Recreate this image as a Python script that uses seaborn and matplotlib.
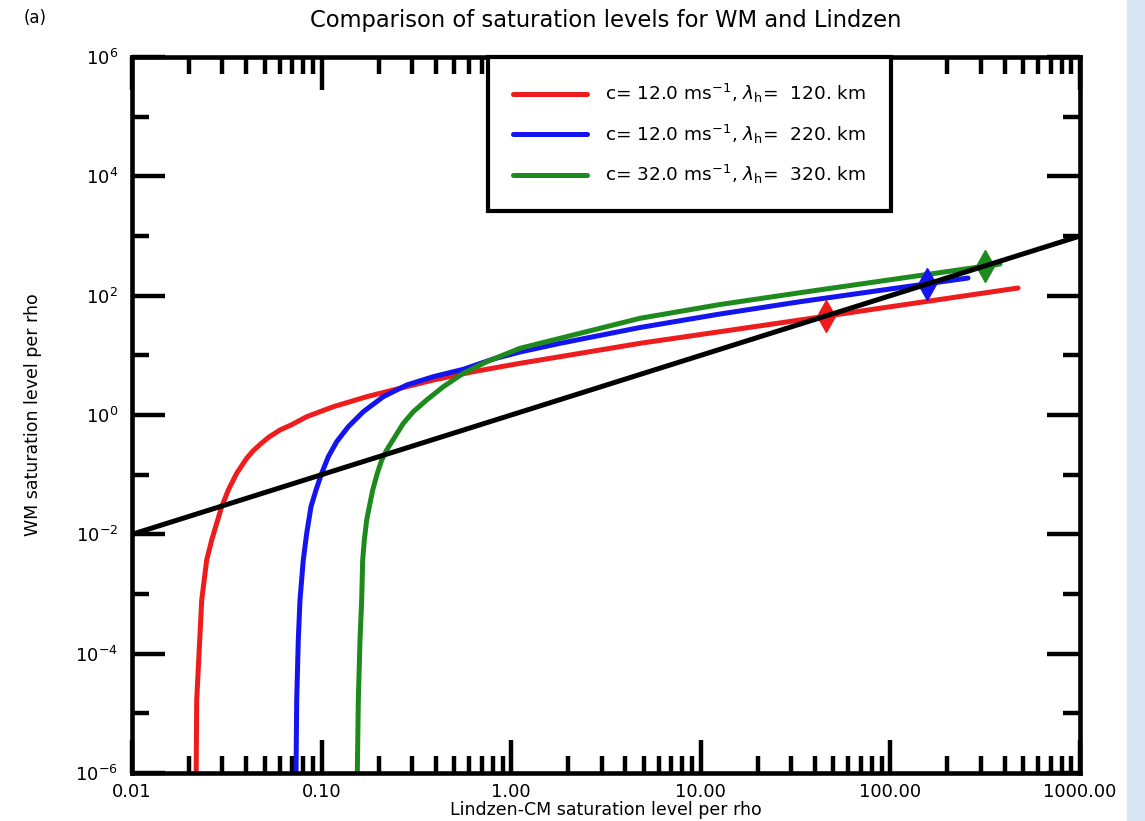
import numpy as np
import pandas as pd
import matplotlib
matplotlib.use("Agg")
import matplotlib.pyplot as plt
import seaborn as sns

# ---- data (log-log) ----
red_x = [0.0218, 0.02194, 0.02332, 0.02477, 0.02633, 0.02797, 0.02972, 0.03221,
         0.03565, 0.04027, 0.04346, 0.04732, 0.0528, 0.06034, 0.06982, 0.08345,
         0.1153, 0.1729, 0.2592, 0.3882, 0.631, 1.113, 1.809, 4.778, 12.63, 33.37, 471]
red_y = [1e-6, 1.67e-5, 7.94e-4, 3.72e-3, 8.04e-3, 0.01531, 0.02904, 0.0553,
         0.1054, 0.188, 0.2492, 0.3203, 0.4279, 0.5605, 0.6929, 0.9365,
         1.377, 2.026, 2.803, 3.86, 5.318, 7.35, 9.49, 15.9, 24.9, 39.1, 134.3]

blue_x = [0.07328, 0.07391, 0.07535, 0.07691, 0.08006, 0.08345, 0.0879, 0.09343,
          0.1001, 0.1085, 0.1201, 0.1383, 0.166, 0.2115, 0.2811, 0.3882, 0.5588,
          0.8046, 1.113, 1.809, 4.778, 12.63, 33.37, 256.7]
blue_y = [1e-6, 1.67e-5, 1.695e-4, 7.94e-4, 3.72e-3, 0.01041, 0.02904, 0.0553,
          0.1054, 0.2, 0.3568, 0.6367, 1.136, 2.026, 3.183, 4.385, 5.834,
          8.679, 11.37, 15.9, 29.27, 49.28, 79.2, 197.7]

green_x = [0.1543, 0.1562, 0.1594, 0.1627, 0.1647, 0.168, 0.1729, 0.1785, 0.186,
           0.1967, 0.2075, 0.2205, 0.2438, 0.2698, 0.3046, 0.3582, 0.4384, 0.5588,
           0.7427, 1.113, 1.809, 4.778, 12.63, 33.37, 378.4]
green_y = [1e-6, 1.67e-5, 1.695e-4, 7.94e-4, 3.72e-3, 8.04e-3, 0.01739, 0.02904, 0.0553,
           0.1054, 0.1761, 0.2591, 0.4329, 0.7259, 1.136, 1.784, 2.981, 4.998,
           7.823, 13.12, 19.29, 41.75, 71.1, 112.1, 339.4]

ref_x = [0.01, 1000.0]
ref_y = [0.01, 1000.0]

marker_x = [46.0, 156.0, 315.0]
marker_y = [46.0, 156.0, 315.0]

labels = [r"c= 12.0 ms$^{-1}$, $\lambda_{\rm h}$=  120. km",
          r"c= 12.0 ms$^{-1}$, $\lambda_{\rm h}$=  220. km",
          r"c= 32.0 ms$^{-1}$, $\lambda_{\rm h}$=  320. km"]
colors = ["#ee1c1c", "#1414f0", "#1e8a1e"]

xticks = [0.01, 0.1, 1, 10, 100, 1000]
xtick_labels = ["0.01", "0.10", "1.00", "10.00", "100.00", "1000.00"]
yticks = [1e-6, 1e-4, 1e-2, 1e0, 1e2, 1e4, 1e6]
ytick_labels = [r"$10^{-6}$", r"$10^{-4}$", r"$10^{-2}$", r"$10^{0}$",
                r"$10^{2}$", r"$10^{4}$", r"$10^{6}$"]

sns.set_style("white")
plt.rcParams['font.family'] = ['DejaVu Sans']
plt.rcParams['mathtext.fontset'] = 'dejavusans'
for k in ["text.color", "axes.labelcolor", "xtick.color", "ytick.color"]:
    plt.rcParams[k] = "black"

fig = plt.figure(figsize=(11.45, 8.21), dpi=100)
fig.patches.append(plt.Rectangle((1127/1145, 0), 1 - 1127/1145, 1,
                                 transform=fig.transFigure, color="#d9e6f5", zorder=0))
ax = fig.add_axes([132/1145, 1 - 773/821, 948/1145, 716/821])

series = [(red_x, red_y), (blue_x, blue_y), (green_x, green_y)]
for (xs, ys), lab, col in zip(series, labels, colors):
    df = pd.DataFrame({"x": xs, "y": ys})
    sns.lineplot(data=df, x="x", y="y", ax=ax, color=col, lw=3.6, sort=False,
                 estimator=None, label=lab, zorder=3)

for mx, my, col in zip(marker_x, marker_y, colors):
    ax.plot([mx], [my], marker="d", ms=16, color=col, mec=col, zorder=4, ls="none")

ax.plot(ref_x, ref_y, color="black", lw=3.6, zorder=5)

ax.set_xscale("log")
ax.set_yscale("log")
ax.set_xlim(0.01, 1000)
ax.set_ylim(1e-6, 1e6)

ax.set_xticks(xticks)
ax.set_xticklabels(xtick_labels)
ax.set_xticks([m * d for d in [0.01, 0.1, 1, 10, 100] for m in range(2, 10)], minor=True)
ax.set_yticks(yticks)
ax.set_yticklabels(ytick_labels)
ax.set_yticks([1e-5, 1e-3, 1e-1, 1e1, 1e3, 1e5], minor=True)
ax.set_yticklabels([], minor=True)
ax.set_xticklabels([], minor=True)

ax.tick_params(which="major", direction="in", length=24, width=3.2, color="black",
               bottom=True, left=True, top=True, right=True, labelsize=13, pad=7)
ax.tick_params(which="minor", direction="in", length=12, width=3.2, color="black",
               bottom=True, left=True, top=True, right=True)
ax.tick_params(axis="y", which="major", pad=10)
for sp in ax.spines.values():
    sp.set_linewidth(3.3)
    sp.set_color("black")
    sp.set_zorder(6)

ax.set_xlabel("Lindzen-CM saturation level per rho", fontsize=12.5, labelpad=0)
ax.set_ylabel("WM saturation level per rho", fontsize=12.5, labelpad=24)

fig.text(606/1145, 1 - 20/821, "Comparison of saturation levels for WM and Lindzen",
         ha="center", va="center", fontsize=16.3)
fig.text(35/1145, 1 - 18/821, "(a)", ha="center", va="center", fontsize=12)

leg = ax.legend(loc="upper left", bbox_to_anchor=((488 - 132) / 948, 1.0),
                borderaxespad=0, frameon=True, fancybox=False, framealpha=1,
                edgecolor="black", fontsize=13.3, handlelength=4.0, handletextpad=1.0,
                labelspacing=0.95, borderpad=1.35)
leg.get_frame().set_linewidth(3)
leg.set_zorder(7)

fig.savefig("out.png", dpi=100)
